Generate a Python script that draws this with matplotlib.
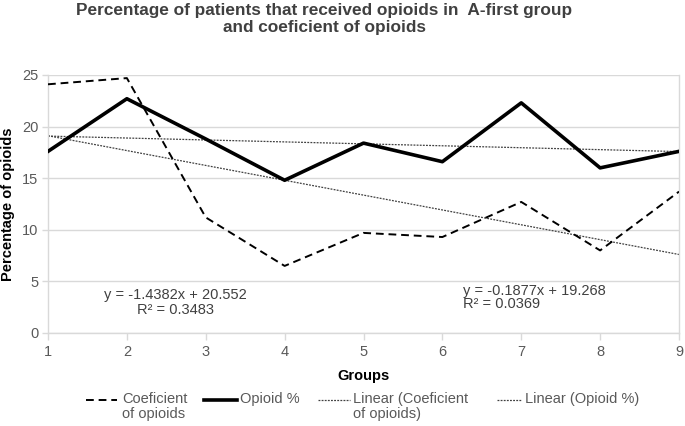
import matplotlib
matplotlib.use("Agg")
import matplotlib.pyplot as plt
from matplotlib.lines import Line2D
import numpy as np

groups = [1, 2, 3, 4, 5, 6, 7, 8, 9]
coeficient = [24.1, 24.7, 11.2, 6.5, 9.7, 9.3, 12.7, 8.0, 13.7]
opioid_pct = [17.6, 22.7, 18.8, 14.8, 18.4, 16.6, 22.3, 16.0, 17.6]

# trendline parameters as printed on the chart
coef_slope, coef_icpt, coef_r2 = -1.4382, 20.552, 0.3483
opi_slope, opi_icpt, opi_r2 = -0.1877, 19.268, 0.0369

plt.rcParams["font.family"] = ["Liberation Sans", "DejaVu Sans"]
txt = "#404040"
grid = "#d9d9d9"
W, H = 685, 426

fig = plt.figure(figsize=(6.85, 4.26), dpi=100)
ax = fig.add_axes([48 / W, 1 - 333 / H, 631 / W, 258 / H])

coef_style = dict(color="black", lw=1.4, ls=(0, (4, 2.5)))
opi_style = dict(color="black", lw=2.6, ls="-")
trend_style = dict(color="#404040", lw=0.9, ls=(0, (1.5, 1)))

x = np.array(groups)
ax.plot(x, coeficient, zorder=3, **coef_style)
ax.plot(x, opioid_pct, zorder=4, **opi_style)
ax.plot(x, coef_slope * x + coef_icpt, zorder=2, **trend_style)
ax.plot(x, opi_slope * x + opi_icpt, zorder=2, **trend_style)

ax.set_xlim(1, 9)
ax.set_ylim(0, 25)
ax.set_xticks(groups)
ax.set_yticks(range(0, 26, 5))
ax.grid(axis="y", color=grid, lw=1)
ax.set_axisbelow(True)
ax.spines["top"].set_visible(False)
for side in ["left", "bottom", "right"]:
    ax.spines[side].set_color(grid)
    ax.spines[side].set_linewidth(1)
ax.tick_params(axis="both", colors=grid, labelcolor="#595959", labelsize=10.5, length=5, width=1)
ax.tick_params(axis="y", length=4, pad=3)

ax.set_xlabel("Groups", fontsize=10.5, fontweight="bold", color="black", labelpad=7)
ax.set_ylabel("Percentage of opioids", fontsize=10.5, fontweight="bold", color="black", labelpad=5)

ax.text(2.62, 2.95, f"y = {coef_slope}x + {coef_icpt}\nR² = {coef_r2}", ha="center", va="center",
        fontsize=10.5, color=txt, linespacing=1.1)
ax.text(6.26, 3.45, f"y = {opi_slope}x + {opi_icpt}\nR² = {opi_r2}", ha="left", va="center",
        fontsize=10.5, color=txt, linespacing=0.95)

fig.text(324.5 / W, 1 - 19 / H,
         "Percentage of patients that received opioids in  A-first group\nand coeficient of opioids",
         ha="center", va="center", fontsize=12.4, fontweight="bold", color=txt,
         family=["Liberation Sans Narrow", "Liberation Sans", "DejaVu Sans"], linespacing=1.12)

# legend drawn by hand so handles sit on the first text line
legend_items = [
    ("Coeficient\nof opioids", coef_style, 86, 117, 122),
    ("Opioid %", opi_style, 204, 237, 240),
    ("Linear (Coeficient\nof opioids)", trend_style, 318, 350, 353),
    ("Linear (Opioid %)", trend_style, 497, 522, 525),
]
ly = 1 - 400 / H
for label, style, x0, x1, tx in legend_items:
    fig.add_artist(Line2D([x0 / W, x1 / W], [ly, ly], transform=fig.transFigure, **style))
    fig.text(tx / W, 1 - 392 / H, label, ha="left", va="top", fontsize=10.5,
             color="#595959", linespacing=1.05)

fig.savefig("out.png", dpi=100)
